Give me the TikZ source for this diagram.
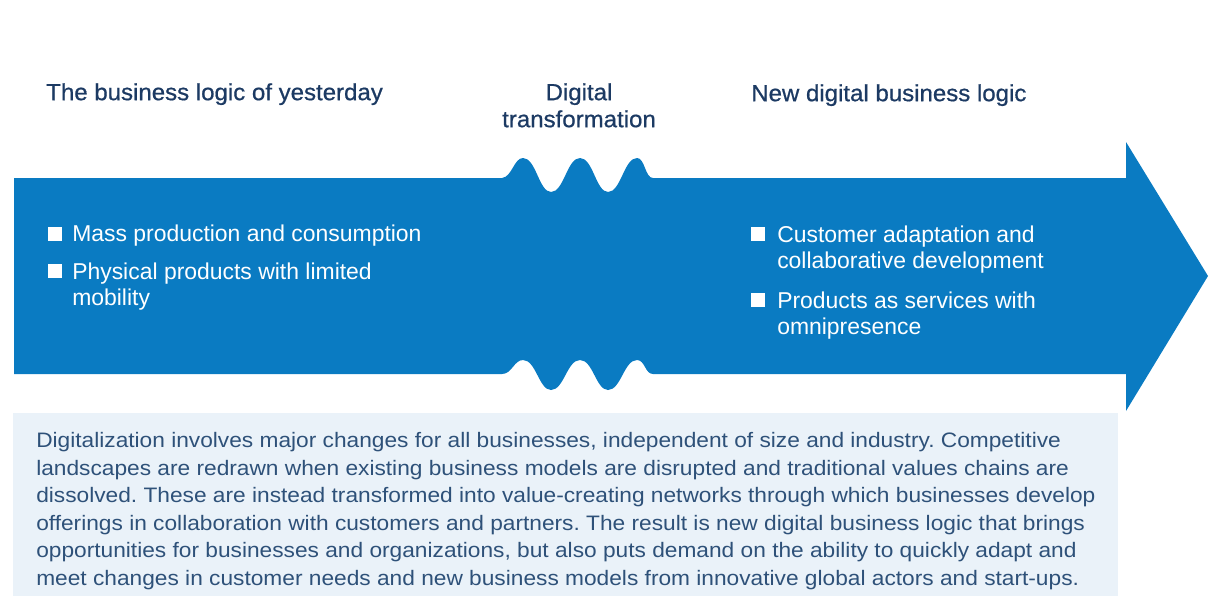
\documentclass[tikz,border=0pt]{standalone}
\usepackage{fontspec}
\setmainfont{Liberation Sans}
\newfontfamily\headfont{Liberation Sans}[FakeBold=0.7,FakeStretch=1.03]
\newfontfamily\notefont{Liberation Sans}[FakeStretch=1.085]
\definecolor{arrowblue}{HTML}{0A7BC2}
\definecolor{headnavy}{HTML}{1C3A63}
\definecolor{bodyblue}{HTML}{2E5179}
\definecolor{boxblue}{HTML}{EAF2F9}

\begin{document}
\frenchspacing
\begin{tikzpicture}[x=0.75pt,y=-0.75pt,
    heading/.style={inner sep=0pt,anchor=north west,text=headnavy,font=\headfont\fontsize{17.5}{20.25}\selectfont},
    sqbullet/.style={fill=white,minimum size=10.5pt,inner sep=0pt},
    item/.style={inner sep=0pt,anchor=north west,align=left,text=white,font=\fontsize{17.2}{19.5}\selectfont},
    bodytext/.style={inner sep=0pt,anchor=north west,align=left,text=bodyblue,font=\notefont\fontsize{15.7}{20.7}\selectfont}]
\useasboundingbox (0,0) rectangle (1213,596);
% light panel below the arrow
\fill[boxblue] (13,413) rectangle (1118,596);
% the big arrow with the wavy break
\fill[arrowblue] (14,178) -- (502,178)
    .. controls (512,177) and (514,158) .. (523,158)
    .. controls (536,158) and (539,192) .. (551,192)
    .. controls (564,192) and (567,158) .. (580,158)
    .. controls (593,158) and (596,192) .. (608,192)
    .. controls (621,192) and (624,158) .. (637,158)
    .. controls (645,158) and (645,178) .. (653,178)
    -- (1126,178) -- (1126,142) -- (1208,276) -- (1126,411) -- (1126,374) -- (653,374)
    .. controls (645,374) and (645,360) .. (637,360)
    .. controls (624,360) and (621,390) .. (608,390)
    .. controls (596,390) and (593,360) .. (580,360)
    .. controls (567,360) and (564,390) .. (551,390)
    .. controls (539,390) and (536,360) .. (523,360)
    .. controls (514,360) and (512,374) .. (502,374)
    -- (14,374) -- cycle;
% headings
\node[heading] (old) at (46,83) {The business logic of yesterday};
\node[heading,anchor=north,align=center] (dig) at (579,83) {Digital\\transformation};
\node[heading] (new) at (751,84) {New digital business logic};
% bullets
\node[sqbullet] (oldsq1) at (54.5,233.5) {};
\node[item] (old1) at (72,225) {Mass production and consumption};
\node[sqbullet] (oldsq2) at (54.5,271) {};
\node[item] (old2) at (72,263) {Physical products with limited\\mobility};
\node[sqbullet] (newsq1) at (758,234) {};
\node[item] (new1) at (777,226) {Customer adaptation and\\collaborative development};
\node[sqbullet] (newsq2) at (758,300) {};
\node[item] (new2) at (777,292) {Products as services with\\omnipresence};
% text in the panel
\node[bodytext] (note) at (36,432) {Digitalization involves major changes for all businesses, independent of size and industry. Competitive\\
landscapes are redrawn when existing business models are disrupted and traditional values chains are\\
dissolved. These are instead transformed into value-creating networks through which businesses develop\\
offerings in collaboration with customers and partners. The result is new digital business logic that brings\\
opportunities for businesses and organizations, but also puts demand on the ability to quickly adapt and\\
meet changes in customer needs and new business models from innovative global actors and start-ups.};
\end{tikzpicture}
\end{document}
